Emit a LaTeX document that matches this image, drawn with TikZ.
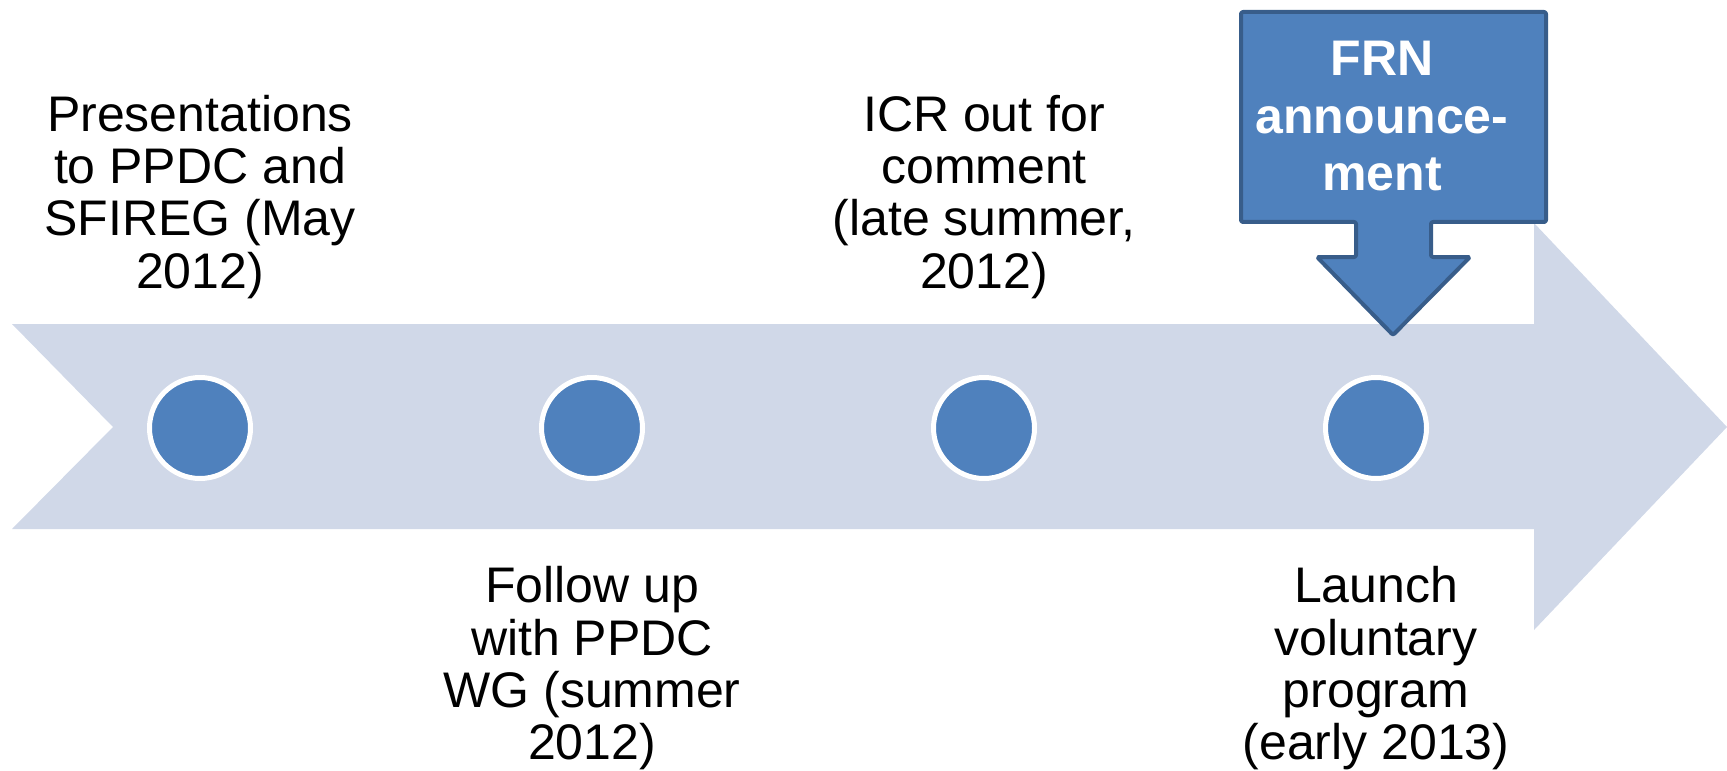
\documentclass[tikz,border=0pt]{standalone}
\usepackage{fontspec}
\setmainfont{Liberation Sans}
\usetikzlibrary{positioning}
\definecolor{barblue}{HTML}{D0D8E8}
\definecolor{dotblue}{HTML}{4F81BD}
\definecolor{edgeblue}{HTML}{385D8A}
\tikzstyle{milestone}=[circle,fill=dotblue,draw=white,line width=2.5pt,minimum size=50.5pt,inner sep=0pt]
\tikzstyle{event}=[align=center,inner sep=0pt,font=\fontsize{25pt}{26.2pt}\selectfont]
\tikzstyle{callout}=[fill=dotblue,draw=edgeblue,line width=2pt,line join=round,rounded corners=1pt]

\begin{document}
\begin{tikzpicture}[x=0.5pt,y=-0.5pt,node distance=196pt]
  \useasboundingbox (0,0) rectangle (1727,770);
  % timeline arrow
  \fill[barblue] (12,324) -- (1534,324) -- (1534,223) -- (1727,427) -- (1534,630)
                 -- (1534,529) -- (12,529) -- (113,427) -- cycle;

  \node (c1) [milestone] at (200,428) {};
  \node (c2) [milestone, right of=c1] {};
  \node (c3) [milestone, right of=c2] {};
  \node (c4) [milestone, right of=c3] {};

  \node (e1) [event, above=38pt of c1] {Presentations\\to PPDC and\\SFIREG (May\\2012)};
  \node (e2) [event, below=42.5pt of c2] {Follow up\\with PPDC\\WG (summer\\2012)};
  \node (e3) [event, above=38pt of c3] {ICR out for\\comment\\(late summer,\\2012)};
  \node (e4) [event, below=42.5pt of c4] {Launch\\voluntary\\program\\(early 2013)};

  % down arrow callout
  \draw[callout] (1241,12) -- (1546,12) -- (1546,222) -- (1431,222) -- (1431,257)
                 -- (1470,257) -- (1393,335) -- (1317,257) -- (1356,257) -- (1356,222)
                 -- (1241,222) -- cycle;
  \node (frn) [anchor=north, inner sep=0pt, align=center, text=white,
               font=\bfseries\fontsize{25pt}{28.8pt}\selectfont] at (1382,41) {FRN\\announce-\\ment};
\end{tikzpicture}
\end{document}
